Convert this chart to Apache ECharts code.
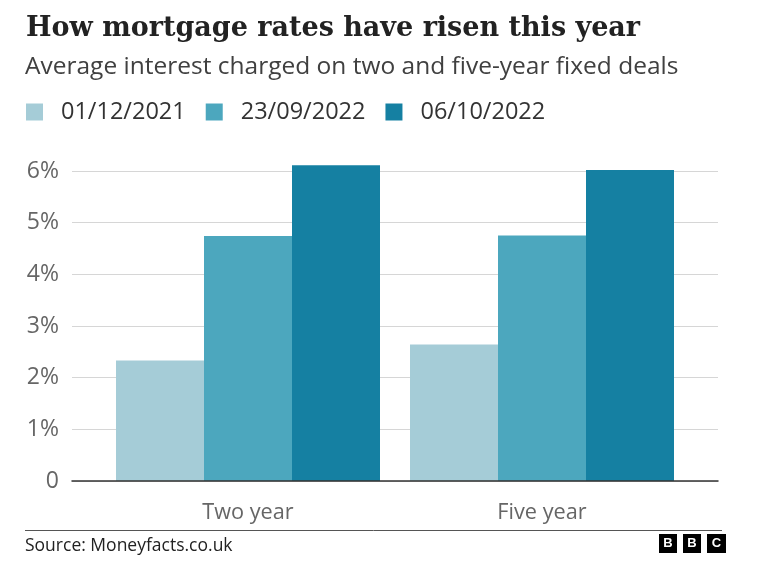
<!DOCTYPE html>
<html>
<head>
<meta charset="utf-8">
<script src="https://cdn.jsdelivr.net/npm/echarts@6/dist/echarts.min.js"></script>
<style>html,body{margin:0;padding:0;background:#fff}#c{width:761px;height:571px}</style>
</head>
<body>
<div id="c"></div>
<script>
const categories = ['Two year', 'Five year'];
const seriesNames = ['01/12/2021', '23/09/2022', '06/10/2022'];
const dec2021 = [2.33, 2.64];
const sep2022 = [4.74, 4.75];
const oct2022 = [6.11, 6.02];
const yTicks = [0, 1, 2, 3, 4, 5, 6];

const colors = ['#a5ccd7', '#4ca7be', '#1580a2'];
const F = '"Open Sans", "Noto Sans", sans-serif';

const chart = echarts.init(document.getElementById('c'), null, {renderer: 'canvas'});
chart.setOption({
  animation: false,
  backgroundColor: '#fff',
  title: [
    {text: 'How mortgage rates have risen this year', left: 26, top: 15, padding: 0,
     textStyle: {fontFamily: '"DejaVu Serif", serif', fontWeight: 'bold', fontSize: 27, color: '#222'}},
    {text: 'Average interest charged on two and five-year fixed deals', left: 25, top: 55, padding: 0,
     textStyle: {fontFamily: F, fontWeight: 'normal', fontSize: 24.5, color: '#404040'}},
    {text: 'Source: Moneyfacts.co.uk', left: 25, top: 537, padding: 0,
     textStyle: {fontFamily: F, fontWeight: 'normal', fontSize: 17.5, color: '#222'}}
  ],
  legend: {
    left: 26, top: 100, padding: 0, itemWidth: 17, itemHeight: 17, itemGap: 20, icon: 'rect',
    data: seriesNames,
    textStyle: {fontFamily: F, fontSize: 23.5, color: '#333', padding: [0, 0, 0, 13]}
  },
  color: colors,
  grid: [
    {left: 72, right: 43, top: 171, bottom: 90},
    {left: 101, width: 588, top: 171, bottom: 90}
  ],
  xAxis: [
    {type: 'category', gridIndex: 0, data: [''], axisTick: {show: false}, axisLabel: {show: false},
     axisLine: {show: true, lineStyle: {color: '#333', width: 1.5}}, z: 10},
    {type: 'category', gridIndex: 1, data: categories, axisTick: {show: false},
     axisLine: {show: false},
     axisLabel: {fontFamily: F, fontSize: 21.7, color: '#666', margin: 21}}
  ],
  yAxis: [
    {type: 'value', gridIndex: 0, min: 0, max: 6, interval: 1,
     axisLine: {show: false}, axisTick: {show: false},
     splitLine: {lineStyle: {color: '#d6d6d6', width: 1}},
     axisLabel: {fontFamily: F, fontSize: 23, color: '#666', margin: 13,
       formatter: v => (yTicks.indexOf(v) >= 0 ? (v === 0 ? '0' : v + '%') : '')}},
    {type: 'value', gridIndex: 1, min: 0, max: 6, interval: 1, show: false}
  ],
  series: [
    {name: seriesNames[0], type: 'bar', xAxisIndex: 1, yAxisIndex: 1, data: dec2021, barWidth: 88, barGap: '0%', clip: false, z: 2},
    {name: seriesNames[1], type: 'bar', xAxisIndex: 1, yAxisIndex: 1, data: sep2022, barWidth: 88, barGap: '0%', clip: false, z: 2},
    {name: seriesNames[2], type: 'bar', xAxisIndex: 1, yAxisIndex: 1, data: oct2022, barWidth: 88, barGap: '0%', clip: false, z: 2}
  ],
  graphic: [
    {type: 'line', shape: {x1: 25, y1: 530.5, x2: 722, y2: 530.5}, style: {stroke: '#555', lineWidth: 1}},
    {type: 'rect', shape: {x: 659, y: 534, width: 18, height: 19}, style: {fill: '#000'}},
    {type: 'rect', shape: {x: 683, y: 534, width: 18, height: 19}, style: {fill: '#000'}},
    {type: 'rect', shape: {x: 707, y: 534, width: 19, height: 19}, style: {fill: '#000'}},
    {type: 'text', x: 668, y: 543.5, style: {text: 'B', fill: '#fff', font: 'bold 13px "Liberation Sans", sans-serif', textAlign: 'center', textVerticalAlign: 'middle'}},
    {type: 'text', x: 692, y: 543.5, style: {text: 'B', fill: '#fff', font: 'bold 13px "Liberation Sans", sans-serif', textAlign: 'center', textVerticalAlign: 'middle'}},
    {type: 'text', x: 716.5, y: 543.5, style: {text: 'C', fill: '#fff', font: 'bold 13px "Liberation Sans", sans-serif', textAlign: 'center', textVerticalAlign: 'middle'}}
  ]
});
</script>
</body>
</html>
